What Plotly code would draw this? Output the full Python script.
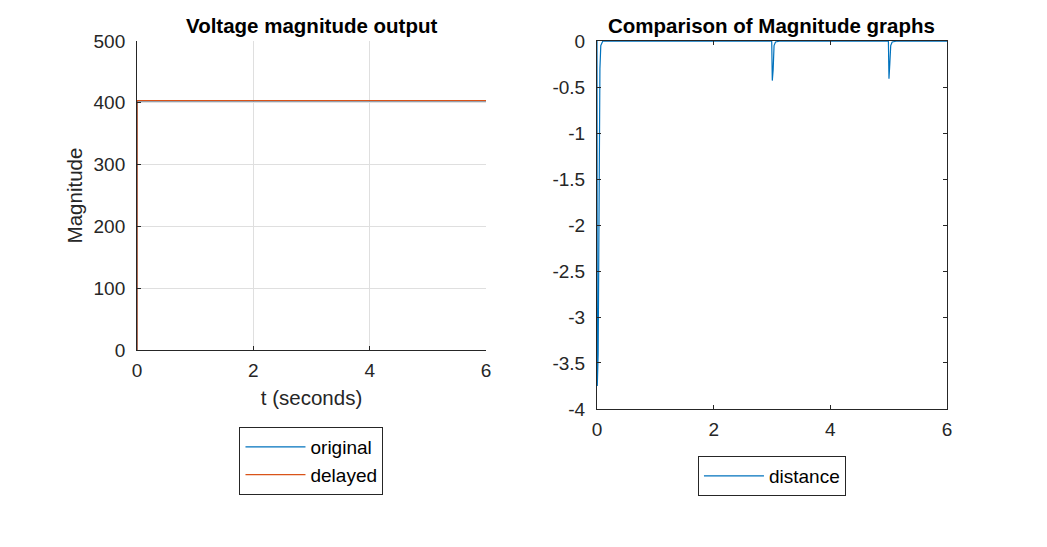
import plotly.graph_objects as go

# left panel: voltage magnitude (original vs delayed)
t_mag = [0, 0.001, 6]
original = [0, 403, 403]
delayed = [0, 403.5, 403.5]

# right panel: difference between the magnitude graphs
t_dist = [0, 0.005, 0.02, 0.035, 0.05, 0.065, 0.1,
          2.995, 3.005, 3.02, 3.035, 3.06, 3.15,
          4.995, 5.005, 5.02, 5.035, 5.06, 5.15, 6.0]
distance = [0, -3.75, -3.4, -0.9, -0.3, -0.05, 0,
            0, -0.43, -0.31, -0.05, -0.01, 0,
            0, -0.41, -0.24, -0.05, -0.01, 0, 0]

dist_ticks = [0, -0.5, -1, -1.5, -2, -2.5, -3, -3.5, -4]
dist_labels = ["0", "-0.5", "-1", "-1.5", "-2", "-2.5", "-3", "-3.5", "-4"]

BLUE = "#0072BD"
ORANGE = "#D95319"
AX = "#262626"
FONT = "Liberation Sans, Arial, sans-serif"

fig = go.Figure()
fig.add_trace(go.Scatter(x=t_mag, y=original, mode="lines", name="original",
                         line=dict(color=BLUE, width=1.2), xaxis="x", yaxis="y",
                         legend="legend"))
fig.add_trace(go.Scatter(x=t_mag, y=delayed, mode="lines", name="delayed",
                         line=dict(color=ORANGE, width=1.2), xaxis="x", yaxis="y",
                         legend="legend"))
fig.add_trace(go.Scatter(x=t_dist, y=distance, mode="lines", name="distance",
                         line=dict(color=BLUE, width=1.2), xaxis="x2", yaxis="y2",
                         legend="legend2"))

tick_font = dict(family=FONT, size=19, color=AX)
lab_font = dict(family=FONT, size=20.5, color=AX)
leg_font = dict(family=FONT, size=19, color="black")
common = dict(showline=True, linecolor=AX, linewidth=1, ticks="inside",
              ticklen=4, tickcolor=AX, zeroline=False, automargin=False,
              tickfont=tick_font)

fig.update_layout(
    width=1047, height=547,
    margin=dict(l=0, r=0, t=0, b=0, autoexpand=False),
    paper_bgcolor="white", plot_bgcolor="white",
    font=dict(family=FONT, color=AX),
    xaxis=dict(domain=[0.1309, 0.4642], range=[0, 6], dtick=2,
               showgrid=True, gridcolor="#dfdfdf", ticklabelstandoff=3,
               title=dict(text="t (seconds)", font=lab_font, standoff=10),
               anchor="y", **common),
    yaxis=dict(domain=[0.3601, 0.925], range=[0, 500], dtick=100,
               showgrid=True, gridcolor="#dfdfdf", ticklabelstandoff=7,
               title=dict(text="Magnitude", font=lab_font, standoff=5),
               anchor="x", **common),
    xaxis2=dict(domain=[0.5702, 0.9045], range=[0, 6], dtick=2,
                mirror="ticks", showgrid=False, ticklabelstandoff=3,
                anchor="y2", **common),
    yaxis2=dict(domain=[0.2523, 0.925], range=[-4, 0],
                tickvals=dist_ticks, ticktext=dist_labels,
                mirror="ticks", showgrid=False, ticklabelstandoff=7,
                anchor="x2", **common),
    legend=dict(x=0.2975, xanchor="center", y=0.2194, yanchor="top",
                bordercolor=AX, borderwidth=1, bgcolor="white",
                font=leg_font, itemwidth=60, tracegroupgap=0),
    legend2=dict(x=0.7373, xanchor="center", y=0.1664, yanchor="top",
                 bordercolor=AX, borderwidth=1, bgcolor="white",
                 font=leg_font, itemwidth=60),
    annotations=[
        dict(text="<b>Voltage magnitude output</b>", xref="paper", yref="paper",
             x=0.2975, y=0.925, xanchor="center", yanchor="bottom", yshift=2,
             showarrow=False, font=dict(family=FONT, size=20.5, color="black")),
        dict(text="<b>Comparison of Magnitude graphs</b>", xref="paper", yref="paper",
             x=0.7373, y=0.925, xanchor="center", yanchor="bottom", yshift=2,
             showarrow=False, font=dict(family=FONT, size=20.5, color="black")),
    ],
)

# page margin off so the 1047x547 figure fills the window exactly
fig.write_html("out.html", config={"displayModeBar": False},
               post_script="document.body.style.margin='0';")
